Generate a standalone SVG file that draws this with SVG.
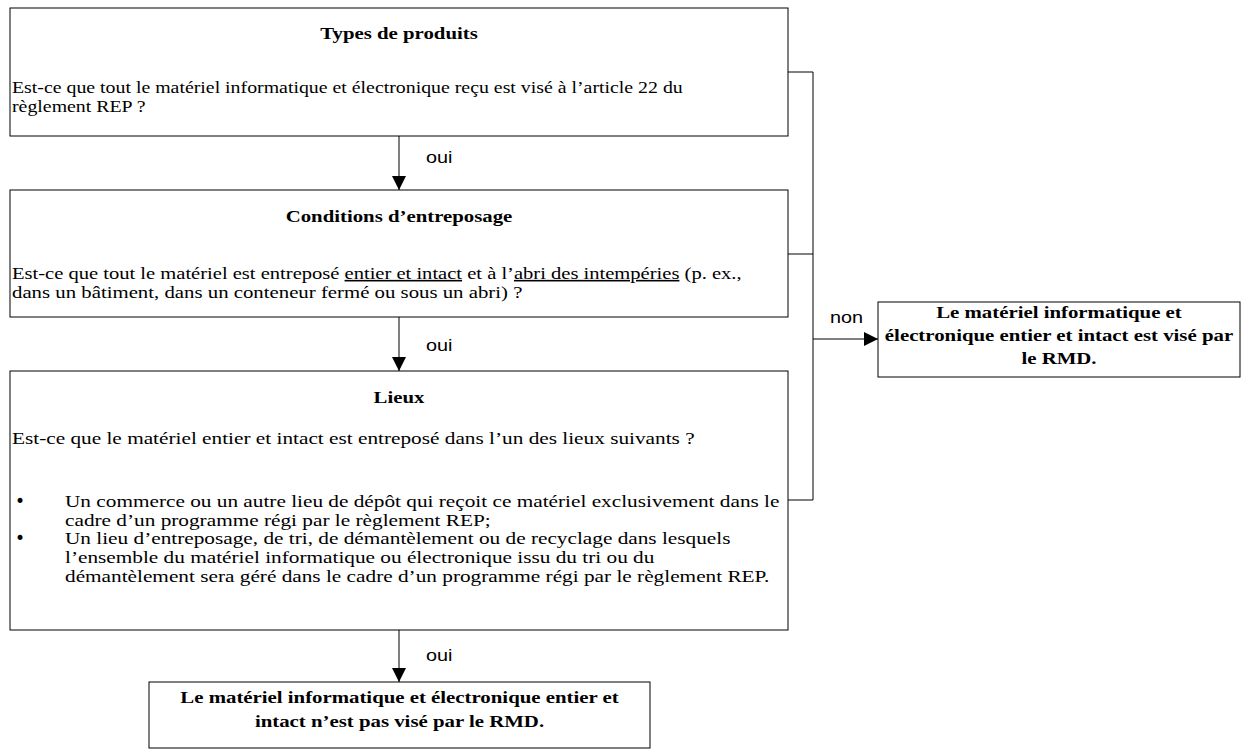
<svg xmlns="http://www.w3.org/2000/svg" width="1249" height="756" viewBox="0 0 1249 756">
<style>
.box{fill:#fff;stroke:#000;stroke-width:1}
.t{font-family:"Liberation Serif","Times New Roman",serif;font-size:16px;fill:#000}
.b{font-weight:bold}
.c{text-anchor:middle}
.bul{font-family:"DejaVu Sans",sans-serif;font-size:17px;fill:#000}
.lbl{font-family:"Liberation Sans",Arial,sans-serif;font-size:16px;fill:#000}
.ln{fill:none;stroke:#000;stroke-width:1}
.u{text-decoration:underline}
</style>
<defs>
<marker id="ah" markerUnits="userSpaceOnUse" markerWidth="14" markerHeight="14" viewBox="0 0 14 14" refX="14" refY="7" orient="auto">
<path d="M0,0 L14,7 L0,14 Z" fill="#000"/>
</marker>
</defs>
<rect width="1249" height="756" fill="#fff"/>
<g id="connectors">
<line class="ln" x1="399" y1="136" x2="399" y2="190" marker-end="url(#ah)"/>
<line class="ln" x1="399" y1="317" x2="399" y2="371" marker-end="url(#ah)"/>
<line class="ln" x1="399" y1="630" x2="399" y2="682" marker-end="url(#ah)"/>
<polyline class="ln" points="788,72 813,72 813,500 788,500"/>
<line class="ln" x1="788" y1="254" x2="813" y2="254"/>
<line class="ln" x1="813" y1="339" x2="878" y2="339" marker-end="url(#ah)"/>
<text class="lbl" transform="matrix(1.24 0 0 1 426 163)">oui</text>
<text class="lbl" transform="matrix(1.24 0 0 1 426 351)">oui</text>
<text class="lbl" transform="matrix(1.24 0 0 1 426 661)">oui</text>
<text class="lbl" transform="matrix(1.24 0 0 1 830 323)">non</text>
</g>
<g id="node-types">
<rect class="box" x="10" y="8" width="778" height="128"/>
<text class="t b c" transform="matrix(1.3 0 0 1 399 39)">Types de produits</text>
<text class="t" transform="matrix(1.24 0 0 1 12 93)">Est-ce que tout le matériel informatique et électronique reçu est visé à l’article 22 du</text>
<text class="t" transform="matrix(1.24 0 0 1 12 112)">règlement REP ?</text>
</g>
<g id="node-conditions">
<rect class="box" x="10" y="190" width="778" height="127"/>
<text class="t b c" transform="matrix(1.3 0 0 1 399 222)">Conditions d’entreposage</text>
<text class="t" transform="matrix(1.285 0 0 1 12 279)">Est-ce que tout le matériel est entreposé <tspan class="u">entier et intact</tspan> et à l’<tspan class="u">abri des intempéries</tspan> (p. ex.,</text>
<text class="t" transform="matrix(1.3 0 0 1 12 298)">dans un bâtiment, dans un conteneur fermé ou sous un abri) ?</text>
</g>
<g id="node-lieux">
<rect class="box" x="10" y="371" width="778" height="259"/>
<text class="t b c" transform="matrix(1.3 0 0 1 399 403)">Lieux</text>
<text class="t" transform="matrix(1.33 0 0 1 12 444)">Est-ce que le matériel entier et intact est entreposé dans l’un des lieux suivants ?</text>
<text class="bul" x="15" y="507">•</text>
<text class="t" transform="matrix(1.33 0 0 1 65 507)">Un commerce ou un autre lieu de dépôt qui reçoit ce matériel exclusivement dans le</text>
<text class="t" transform="matrix(1.33 0 0 1 65 526)">cadre d’un programme régi par le règlement REP;</text>
<text class="bul" x="15" y="544">•</text>
<text class="t" transform="matrix(1.33 0 0 1 65 544)">Un lieu d’entreposage, de tri, de démantèlement ou de recyclage dans lesquels</text>
<text class="t" transform="matrix(1.33 0 0 1 65 563)">l’ensemble du matériel informatique ou électronique issu du tri ou du</text>
<text class="t" transform="matrix(1.33 0 0 1 65 582)">démantèlement sera géré dans le cadre d’un programme régi par le règlement REP.</text>
</g>
<g id="node-vise">
<rect class="box" x="878" y="302" width="362" height="75"/>
<text class="t b c" style="font-size:17.5px" transform="matrix(1.19 0 0 1 1059 318)">Le matériel informatique et</text>
<text class="t b c" style="font-size:17.5px" transform="matrix(1.19 0 0 1 1059 341)">électronique entier et intact est visé par</text>
<text class="t b c" style="font-size:17.5px" transform="matrix(1.19 0 0 1 1059 364)">le RMD.</text>
</g>
<g id="node-nonvise">
<rect class="box" x="149" y="682" width="501" height="66"/>
<text class="t b c" style="font-size:17.5px" transform="matrix(1.19 0 0 1 399.5 703)">Le matériel informatique et électronique entier et</text>
<text class="t b c" style="font-size:17.5px" transform="matrix(1.19 0 0 1 399.5 727)">intact n’est pas visé par le RMD.</text>
</g>
</svg>
